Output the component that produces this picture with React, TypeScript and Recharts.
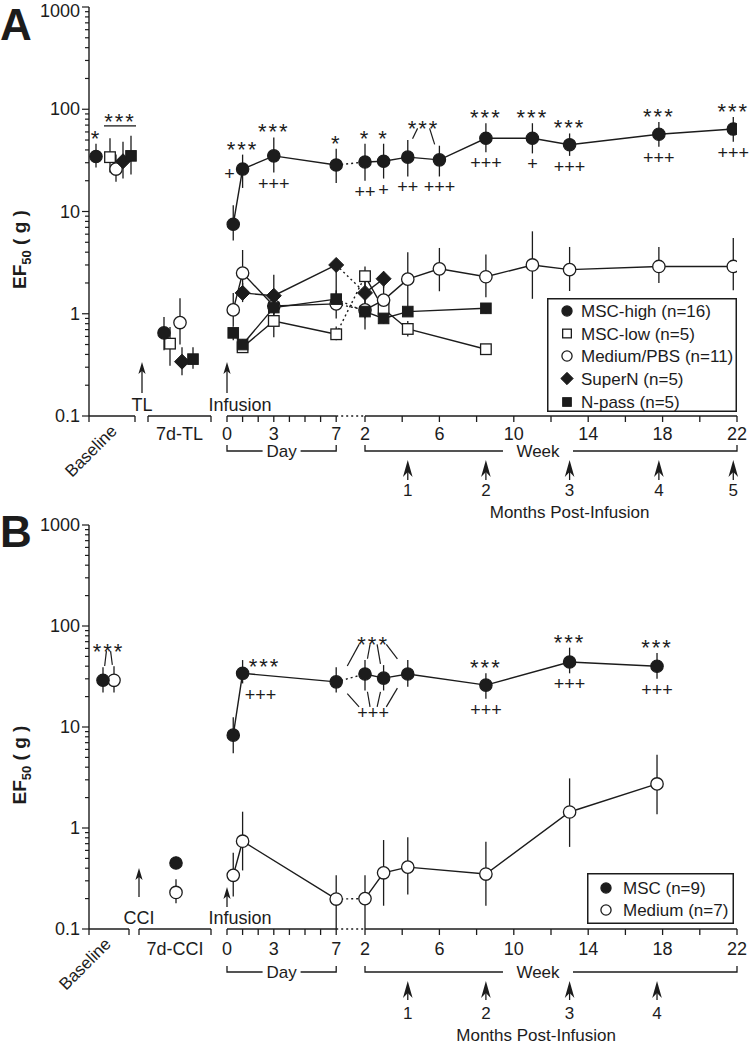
import React from "react";
import {
  LineChart,
  Line,
  XAxis,
  YAxis,
  ErrorBar,
  ReferenceLine,
  ReferenceDot,
  Legend,
} from "recharts";

type Phase = "B" | "T" | "D" | "W";
// [phase, time (day or week), mean, lower bound, upper bound]
type Pt = [Phase, number, number, number, number];
type Mark = "circleF" | "circleO" | "squareO" | "squareF" | "diamond";

// ---------- Panel A (TL) ----------
const A_MSC_HIGH: Pt[] = [
  ["B", 0, 34.5, 27, 46],
  ["T", 0, 0.65, 0.44, 0.93],
  ["D", 0.4, 7.5, 5.2, 11.5],
  ["D", 1, 26, 17, 36],
  ["D", 3, 35, 24, 53],
  ["D", 7, 28.5, 19, 41],
  ["W", 2, 30.5, 20, 46],
  ["W", 3, 31, 21, 46],
  ["W", 4.3, 34, 22, 50],
  ["W", 6, 32, 22, 44],
  ["W", 8.5, 52, 38, 73],
  ["W", 11, 52, 37, 73],
  ["W", 13, 45, 35, 58],
  ["W", 17.8, 57, 43, 75],
  ["W", 21.8, 64, 48, 84],
];
const A_MSC_LOW: Pt[] = [
  ["B", 0, 34, 24, 52],
  ["T", 0, 0.51, 0.31, 0.74],
  ["D", 1, 0.47, 0.42, 0.52],
  ["D", 3, 0.85, 0.59, 1.36],
  ["D", 7, 0.63, 0.55, 0.75],
  ["W", 2, 2.33, 1.8, 2.9],
  ["W", 3, 1.11, 0.9, 1.4],
  ["W", 4.3, 0.71, 0.6, 0.85],
  ["W", 8.5, 0.45, 0.4, 0.5],
];
const A_MEDIUM: Pt[] = [
  ["B", 0, 26, 19.5, 36],
  ["T", 0, 0.82, 0.5, 1.42],
  ["D", 0.4, 1.09, 0.75, 1.6],
  ["D", 1, 2.5, 1.7, 4.2],
  ["D", 3, 1.19, 0.85, 1.6],
  ["D", 7, 1.25, 0.9, 1.7],
  ["W", 2, 1.09, 0.7, 1.6],
  ["W", 3, 1.36, 1.0, 1.9],
  ["W", 4.3, 2.18, 1.1, 4.0],
  ["W", 6, 2.75, 1.66, 4.4],
  ["W", 8.5, 2.3, 1.45, 3.8],
  ["W", 11, 3.0, 1.4, 6.4],
  ["W", 13, 2.7, 1.67, 4.5],
  ["W", 17.8, 2.9, 2.0, 4.5],
  ["W", 21.8, 2.9, 1.7, 5.5],
];
const A_SUPERN: Pt[] = [
  ["B", 0, 31, 21, 48],
  ["T", 0, 0.34, 0.25, 0.47],
  ["D", 1, 1.6, 1.3, 2.0],
  ["D", 3, 1.5, 1.0, 2.4],
  ["D", 7, 3.0, 1.4, 3.4],
  ["W", 2, 1.6, 1.2, 2.1],
  ["W", 3, 2.2, 1.8, 2.6],
];
const A_NPASS: Pt[] = [
  ["B", 0, 35, 23, 55],
  ["T", 0, 0.36, 0.29, 0.47],
  ["D", 0.4, 0.65, 0.55, 0.75],
  ["D", 1, 0.5, 0.45, 0.56],
  ["D", 3, 1.15, 1.0, 1.3],
  ["D", 7, 1.39, 1.2, 1.6],
  ["W", 2, 1.05, 0.9, 1.2],
  ["W", 3, 0.9, 0.8, 1.0],
  ["W", 4.3, 1.05, 0.95, 1.15],
  ["W", 8.5, 1.13, 1.0, 1.25],
];
// significance marks for MSC-high, one per row of A_MSC_HIGH
const A_STARS = ["*", "", "", "***", "***", "*", "*", "*", "", "", "***", "***", "***", "***", "***"];
const A_PLUS = ["", "", "", "+", "+++", "", "++", "+", "++", "+++", "+++", "+", "+++", "+++", "+++"];
const A_MONTHS = [4.3, 8.5, 13, 17.8, 21.8];
const A_MONTH_LABELS = ["1", "2", "3", "4", "5"];

// ---------- Panel B (CCI) ----------
const B_MSC: Pt[] = [
  ["B", 0, 29, 22, 39],
  ["T", 0, 0.45, 0.4, 0.52],
  ["D", 0.4, 8.3, 5.5, 12.5],
  ["D", 1, 34, 27, 46],
  ["D", 7, 28, 22, 39],
  ["W", 2, 33.5, 23, 46],
  ["W", 3, 30.5, 23, 41],
  ["W", 4.3, 33.5, 25, 46],
  ["W", 8.5, 26, 19, 34],
  ["W", 13, 44, 34, 61],
  ["W", 17.7, 40, 30, 54],
];
const B_MEDIUM: Pt[] = [
  ["B", 0, 29, 22, 40],
  ["T", 0, 0.23, 0.18, 0.31],
  ["D", 0.4, 0.34, 0.21, 0.57],
  ["D", 1, 0.74, 0.38, 1.45],
  ["D", 7, 0.198, 0.1, 0.34],
  ["W", 2, 0.2, 0.1, 0.34],
  ["W", 3, 0.36, 0.17, 0.76],
  ["W", 4.3, 0.41, 0.22, 0.81],
  ["W", 8.5, 0.35, 0.17, 0.73],
  ["W", 13, 1.44, 0.65, 3.1],
  ["W", 17.7, 2.73, 1.37, 5.3],
];
const B_STARS = ["", "", "", "***", "", "", "", "", "***", "***", "***"];
const B_PLUS = ["", "", "", "+++", "", "", "", "", "+++", "+++", "+++"];
const B_MONTHS = [4.3, 8.5, 13, 17.7];
const B_MONTH_LABELS = ["1", "2", "3", "4"];

// ---------- axes ----------
const Y_MAJOR = [0.1, 1, 10, 100, 1000];
const Y_TICKS = Y_MAJOR.flatMap((m, i) =>
  i === Y_MAJOR.length - 1 ? [m] : [1, 2, 3, 4, 5, 6, 7, 8, 9].map((k) => +(m * k).toPrecision(3))
);
const DAY_TICKS = [0, 1, 2, 3, 4, 5, 6, 7];
const DAY_TICK_LABELS = ["0", "", "", "3", "", "", "", "7"];
const WEEK_TICKS = [2, 4, 6, 8, 10, 12, 14, 16, 18, 20, 22];
const WEEK_TICK_LABELS = ["2", "", "6", "", "10", "", "14", "", "18", "", "22"];

// x layout: one unit = one pixel of the plot area
const X_MAX = 648;
const DAY0 = 138;
const DAY_W = 15.6;
const WK2 = 276;
const WK_W = 18.6;
const xDay = (d: number) => DAY0 + d * DAY_W;
const xWeek = (w: number) => WK2 + (w - 2) * WK_W;

const INK = "#1c1c1c";
const FONT = "Arial, 'Liberation Sans', Helvetica, sans-serif";

type Row = { x: number; v: number; lo: number; hi: number; err: [number, number] };

function toRow(p: Pt, slotB: number, slotT: number): Row {
  const x = p[0] === "B" ? slotB : p[0] === "T" ? slotT : p[0] === "D" ? xDay(p[1]) : xWeek(p[1]);
  return { x, v: p[2], lo: p[3], hi: p[4], err: [p[2] - p[3], p[4] - p[2]] };
}

function Marker({ kind, cx, cy, small }: { kind: Mark; cx: number; cy: number; small?: boolean }) {
  if (cx == null || cy == null) return <g />;
  const k = small ? 0.82 : 1;
  const r = 6.2 * k;
  const s = 10.6 * k;
  switch (kind) {
    case "circleF":
      return <circle cx={cx} cy={cy} r={r} fill={INK} stroke={INK} strokeWidth={1.2} />;
    case "circleO":
      return <circle cx={cx} cy={cy} r={r} fill="#fff" stroke={INK} strokeWidth={1.3} />;
    case "squareO":
      return <rect x={cx - s / 2} y={cy - s / 2} width={s} height={s} fill="#fff" stroke={INK} strokeWidth={1.3} />;
    case "squareF":
      return <rect x={cx - s / 2} y={cy - s / 2} width={s} height={s} fill={INK} stroke={INK} strokeWidth={1} />;
    default: {
      const d = 7.5 * k;
      return (
        <polygon
          points={`${cx},${cy - d} ${cx + d},${cy} ${cx},${cy + d} ${cx - d},${cy}`}
          fill={INK}
          stroke={INK}
          strokeWidth={1}
        />
      );
    }
  }
}

function arrow(x: number, tip: number, base: number, len: number, half: number, notch: number) {
  return (
    <g>
      <line x1={x} x2={x} y1={tip + len - notch} y2={base} stroke={INK} strokeWidth={1.3} />
      <path
        d={`M${x},${tip} L${x - half},${tip + len} L${x},${tip + len - notch} L${x + half},${tip + len} Z`}
        fill={INK}
      />
    </g>
  );
}

type Group = { label: string; side: "up" | "down"; kind: "bar" | "fan"; lift: number; members: [number, number][] };

const A_GROUPS: Group[] = [
  { label: "***", side: "up", kind: "bar", lift: 1.25, members: [[1, 0], [2, 0], [3, 0], [4, 0]] },
  { label: "***", side: "up", kind: "fan", lift: 1.3, members: [[0, 8], [0, 9]] },
];
const B_GROUPS: Group[] = [
  { label: "***", side: "up", kind: "fan", lift: 1.41, members: [[0, 0], [1, 0]] },
  { label: "***", side: "up", kind: "fan", lift: 1.43, members: [[0, 4], [0, 5], [0, 6], [0, 7]] },
  { label: "+++", side: "down", kind: "fan", lift: 1.39, members: [[0, 4], [0, 5], [0, 6], [0, 7]] },
];

interface Offsets {
  tick: number;
  bracket: number;
  arrowTip: number;
  arrowBase: number;
  monthNum: number;
  monthTitle: number;
  injTip: number;
  injBase: number;
  infTip: number;
  infBase: number;
}

interface PanelCfg {
  letter: string;
  letterTop: number;
  top: number;
  height: number;
  marginTop: number;
  marginBottom: number;
  series: { name: string; pts: Pt[]; mark: Mark }[];
  order: number[];
  baseSlots: number[];
  tlSlots: number[];
  baseSeg: [number, number];
  tlSeg: [number, number];
  stars: string[];
  plus: string[];
  // pixel nudges for a few marks that sit beside their point, by row index
  starNudge: Record<number, [number, number]>;
  plusNudge: Record<number, [number, number]>;
  groups: Group[];
  injury: string;
  injuryX: number;
  tlLabel: string;
  months: number[];
  monthLabels: string[];
  monthTitleWeek: number;
  off: Offsets;
  legend: { left: number; top: number; width: number; height: number; rows: number[]; markX: number; textX: number };
}

const PANEL_A: PanelCfg = {
  letter: "A",
  letterTop: 0,
  top: 0,
  height: 540,
  marginTop: 7,
  marginBottom: 94,
  series: [
    { name: "MSC-high (n=16)", pts: A_MSC_HIGH, mark: "circleF" },
    { name: "MSC-low (n=5)", pts: A_MSC_LOW, mark: "squareO" },
    { name: "Medium/PBS (n=11)", pts: A_MEDIUM, mark: "circleO" },
    { name: "SuperN (n=5)", pts: A_SUPERN, mark: "diamond" },
    { name: "N-pass (n=5)", pts: A_NPASS, mark: "squareF" },
  ],
  order: [1, 2, 3, 4, 0],
  baseSlots: [7, 21, 27, 34, 42],
  tlSlots: [75, 81, 91, 93, 104],
  baseSeg: [0, 46],
  tlSeg: [59, 122],
  stars: A_STARS,
  plus: A_PLUS,
  starNudge: {},
  plusNudge: { 3: [-13, -25] },
  groups: A_GROUPS,
  injury: "TL",
  injuryX: 53,
  tlLabel: "7d-TL",
  months: A_MONTHS,
  monthLabels: A_MONTH_LABELS,
  monthTitleWeek: 13,
  off: { tick: 24, bracket: 35, arrowTip: 44, arrowBase: 64, monthNum: 80, monthTitle: 102, injTip: -54, injBase: -23, infTip: -54, infBase: -23 },
  legend: { left: 547, top: 298, width: 190, height: 114, rows: [13, 35.5, 58, 80.5, 104], markX: 20, textX: 34 },
};

const PANEL_B: PanelCfg = {
  letter: "B",
  letterTop: 2,
  top: 505,
  height: 545,
  marginTop: 20,
  marginBottom: 91,
  series: [
    { name: "MSC (n=9)", pts: B_MSC, mark: "circleF" },
    { name: "Medium (n=7)", pts: B_MEDIUM, mark: "circleO" },
  ],
  order: [1, 0],
  baseSlots: [14, 25],
  tlSlots: [87, 87],
  baseSeg: [0, 40],
  tlSeg: [50, 122],
  stars: B_STARS,
  plus: B_PLUS,
  starNudge: { 3: [22, 12] },
  plusNudge: { 3: [18, 1] },
  groups: B_GROUPS,
  injury: "CCI",
  injuryX: 50,
  tlLabel: "7d-CCI",
  months: B_MONTHS,
  monthLabels: B_MONTH_LABELS,
  monthTitleWeek: 11.2,
  off: { tick: 26, bracket: 43, arrowTip: 52, arrowBase: 71, monthNum: 90, monthTitle: 112, injTip: -61, injBase: -32, infTip: -42, infBase: -22 },
  legend: { left: 587, top: 368, width: 147, height: 51, rows: [15, 37], markX: 19, textX: 36 },
};

const txt = (extra: any = {}) => ({ fontFamily: FONT, fill: INK, ...extra });

function Panel({ cfg }: { cfg: PanelCfg }) {
  const rowsBy = cfg.series.map((s, si) => s.pts.map((p) => toRow(p, cfg.baseSlots[si], cfg.tlSlots[si])));
  const Y0 = Y_MAJOR[0];

  // connecting lines
  const lines: React.ReactNode[] = [];
  cfg.series.forEach((s, si) => {
    const rows = rowsBy[si];
    const dayRows = rows.filter((_, i) => s.pts[i][0] === "D");
    const weekRows = rows.filter((_, i) => s.pts[i][0] === "W");
    const common = {
      dataKey: "v",
      stroke: INK,
      strokeWidth: 1.4,
      dot: false,
      activeDot: false,
      isAnimationActive: false,
      type: "linear" as const,
      legendType: "none" as const,
    };
    if (dayRows.length > 1) lines.push(<Line key={`d-${si}`} data={dayRows} {...common} />);
    if (dayRows.length && weekRows.length)
      lines.push(
        <Line key={`g-${si}`} data={[dayRows[dayRows.length - 1], weekRows[0]]} {...common} strokeDasharray="2 3" />
      );
    if (weekRows.length > 1) lines.push(<Line key={`w-${si}`} data={weekRows} {...common} />);
  });

  // markers with error bars
  const marks = cfg.order.map((si) => {
    const s = cfg.series[si];
    return (
      <Line
        key={`m-${si}`}
        data={rowsBy[si]}
        dataKey="v"
        stroke="none"
        legendType="none"
        activeDot={false}
        isAnimationActive={false}
        dot={(p: any) => <Marker key={`${s.mark}-${p.index}`} kind={s.mark} cx={p.cx} cy={p.cy} />}
      >
        <ErrorBar dataKey="err" direction="y" width={0} stroke={INK} strokeWidth={1.3} />
      </Line>
    );
  });

  // single significance marks on the first series
  const notes: React.ReactNode[] = [];
  rowsBy[0].forEach((r, i) => {
    if (cfg.stars[i]) {
      const [dx, dy] = cfg.starNudge[i] || [0, 0];
      notes.push(
        <ReferenceDot
          key={`s-${i}`}
          x={r.x}
          y={r.hi}
          r={0}
          ifOverflow="visible"
          shape={(p: any) => (
            <text x={p.cx + dx} y={p.cy + 2 + dy} textAnchor="middle" fontSize={22} letterSpacing={2} {...txt()}>
              {cfg.stars[i]}
            </text>
          )}
        />
      );
    }
    if (cfg.plus[i]) {
      const [dx, dy] = cfg.plusNudge[i] || [0, 0];
      notes.push(
        <ReferenceDot
          key={`p-${i}`}
          x={r.x}
          y={r.lo}
          r={0}
          ifOverflow="visible"
          shape={(p: any) => (
            <text x={p.cx + dx} y={p.cy + 17 + dy} textAnchor="middle" fontSize={18} {...txt()}>
              {cfg.plus[i]}
            </text>
          )}
        />
      );
    }
  });

  // grouped marks
  cfg.groups.forEach((g, gi) => {
    const rows = g.members.map(([s, r]) => rowsBy[s][r]);
    const cx = rows.reduce((a, r) => a + r.x, 0) / rows.length;
    const up = g.side === "up";
    const L = up ? Math.max(...rows.map((r) => r.hi)) * g.lift : Math.min(...rows.map((r) => r.lo)) / g.lift;
    if (g.kind === "bar") {
      const xs = rows.map((r) => r.x);
      notes.push(
        <ReferenceLine
          key={`gb-${gi}`}
          segment={[{ x: Math.min(...xs) - 6, y: L }, { x: Math.max(...xs) + 5, y: L }]}
          stroke={INK}
          strokeWidth={1.3}
          ifOverflow="visible"
        />
      );
    } else {
      rows.forEach((r, k) =>
        notes.push(
          <ReferenceLine
            key={`gf-${gi}-${k}`}
            segment={[
              { x: r.x + 0.3 * (cx - r.x), y: up ? r.hi * 1.03 : r.lo / 1.03 },
              { x: r.x + 0.62 * (cx - r.x), y: L },
            ]}
            stroke={INK}
            strokeWidth={1.2}
            ifOverflow="visible"
          />
        )
      );
    }
    const dy = g.kind === "bar" ? 3 : up ? 7.5 : 12.5;
    notes.push(
      <ReferenceDot
        key={`gl-${gi}`}
        x={cx}
        y={L}
        r={0}
        ifOverflow="visible"
        shape={(p: any) => (
          <text
            x={p.cx}
            y={p.cy + dy}
            textAnchor="middle"
            fontSize={up ? 22 : 18}
            letterSpacing={up ? 2 : 0}
            {...txt()}
          >
            {g.label}
          </text>
        )}
      />
    );
  });

  // x axis pieces
  const o = cfg.off;
  const axisSegs: [number, number, boolean][] = [
    [cfg.baseSeg[0], cfg.baseSeg[1], false],
    [cfg.tlSeg[0], cfg.tlSeg[1], false],
    [xDay(0), xDay(7), false],
    [xDay(7), xWeek(2), true],
    [xWeek(2), xWeek(22), false],
  ];
  const xTicks = [0, cfg.baseSeg[1], cfg.tlSeg[0], cfg.tlSeg[1], ...DAY_TICKS.map(xDay), ...WEEK_TICKS.map(xWeek)];
  const xTickLabels = ["", "", "", "", ...DAY_TICK_LABELS, ...WEEK_TICK_LABELS];
  const labelAt = new Map(xTicks.map((t, i) => [t.toFixed(2), xTickLabels[i]]));

  const XTick = (p: any) => {
    const label = labelAt.get(Number(p.payload.value).toFixed(2));
    return (
      <g>
        <line x1={p.x} x2={p.x} y1={p.y} y2={p.y + 6} stroke={INK} strokeWidth={1.3} />
        {label ? (
          <text x={p.x} y={p.y + o.tick} textAnchor="middle" fontSize={18} {...txt()}>
            {label}
          </text>
        ) : null}
      </g>
    );
  };

  const YTick = (p: any) => {
    const v = Number(p.payload.value);
    const major = Y_MAJOR.some((m) => Math.abs(m - v) < 1e-9);
    return (
      <g>
        <line x1={p.x} x2={p.x - (major ? 7 : 4)} y1={p.y} y2={p.y} stroke={INK} strokeWidth={1.2} />
        {major ? (
          <text x={p.x - 9} y={Math.max(p.y + 6, 17)} textAnchor="end" fontSize={18} {...txt()}>
            {String(v)}
          </text>
        ) : null}
      </g>
    );
  };

  const bracket = (key: string, x1: number, x2: number, xt: number, gap: number, label: string) => (
    <ReferenceLine
      key={key}
      segment={[{ x: x1, y: Y0 }, { x: x2, y: Y0 }]}
      ifOverflow="visible"
      shape={(p: any) => {
        const y = p.y1 + o.bracket;
        const a = p.x1;
        const b = p.x2;
        const t = a + ((xt - x1) / (x2 - x1)) * (b - a);
        return (
          <g>
            <path
              d={`M${a},${y - 6} V${y} H${t - gap / 2} M${t + gap / 2},${y} H${b} V${y - 6}`}
              fill="none"
              stroke={INK}
              strokeWidth={1.3}
            />
            <text x={t} y={y + 6} textAnchor="middle" fontSize={17} {...txt()}>
              {label}
            </text>
          </g>
        );
      }}
    />
  );

  const deco: React.ReactNode[] = [
    ...axisSegs.map(([a, b, dotted], i) => (
      <ReferenceLine
        key={`ax-${i}`}
        segment={[{ x: a, y: Y0 }, { x: b, y: Y0 }]}
        stroke={INK}
        strokeWidth={dotted ? 1.6 : 1.4}
        strokeDasharray={dotted ? "2 3" : undefined}
        ifOverflow="visible"
      />
    )),
    bracket("br-day", xDay(0), xDay(7), xDay(3.5), 38, "Day"),
    bracket("br-week", xWeek(2), xWeek(22), xWeek(11.3), 70, "Week"),
    <ReferenceDot
      key="lbl-base"
      x={cfg.baseSeg[1] - 17}
      y={Y0}
      r={0}
      ifOverflow="visible"
      shape={(p: any) => (
        <text
          transform={`translate(${p.cx},${p.cy + 16}) rotate(-45)`}
          textAnchor="end"
          fontSize={17}
          {...txt()}
        >
          Baseline
        </text>
      )}
    />,
    <ReferenceDot
      key="lbl-tl"
      x={(cfg.tlSeg[0] + cfg.tlSeg[1]) / 2}
      y={Y0}
      r={0}
      ifOverflow="visible"
      shape={(p: any) => (
        <text x={p.cx} y={p.cy + o.tick} textAnchor="middle" fontSize={18} {...txt()}>
          {cfg.tlLabel}
        </text>
      )}
    />,
    <ReferenceDot
      key="inj"
      x={cfg.injuryX}
      y={Y0}
      r={0}
      ifOverflow="visible"
      shape={(p: any) => (
        <g>
          {arrow(p.cx, p.cy + o.injTip, p.cy + o.injBase, 12, 3.6, 3)}
          <text x={p.cx} y={p.cy - 5} textAnchor="middle" fontSize={18} {...txt()}>
            {cfg.injury}
          </text>
        </g>
      )}
    />,
    <ReferenceDot
      key="inf"
      x={xDay(0)}
      y={Y0}
      r={0}
      ifOverflow="visible"
      shape={(p: any) => (
        <g>
          {arrow(p.cx, p.cy + o.infTip, p.cy + o.infBase, 12, 3.6, 3)}
          <text x={p.cx + 13} y={p.cy - 5} textAnchor="middle" fontSize={18} {...txt()}>
            Infusion
          </text>
        </g>
      )}
    />,
    ...cfg.months.map((w, i) => (
      <ReferenceDot
        key={`mo-${i}`}
        x={xWeek(w)}
        y={Y0}
        r={0}
        ifOverflow="visible"
        shape={(p: any) => (
          <g>
            {arrow(p.cx, p.cy + o.arrowTip, p.cy + o.arrowBase, 17, 4.8, 5)}
            <text x={p.cx} y={p.cy + o.monthNum} textAnchor="middle" fontSize={17} {...txt()}>
              {cfg.monthLabels[i]}
            </text>
          </g>
        )}
      />
    )),
    <ReferenceDot
      key="mo-title"
      x={xWeek(cfg.monthTitleWeek)}
      y={Y0}
      r={0}
      ifOverflow="visible"
      shape={(p: any) => (
        <text x={p.cx} y={p.cy + o.monthTitle} textAnchor="middle" fontSize={17} {...txt()}>
          Months Post-Infusion
        </text>
      )}
    />,
  ];

  const lg = cfg.legend;
  const legendContent = () => (
    <svg width={lg.width} height={lg.height} style={{ display: "block" }}>
      <rect x={0.75} y={0.75} width={lg.width - 1.5} height={lg.height - 1.5} fill="#fff" stroke={INK} strokeWidth={1.5} />
      {cfg.series.map((s, i) => (
        <g key={s.name}>
          <Marker kind={s.mark} cx={lg.markX} cy={lg.rows[i]} small />
          <text x={lg.textX} y={lg.rows[i] + 6} fontSize={17} {...txt()}>
            {s.name}
          </text>
        </g>
      ))}
    </svg>
  );

  const YLabel = (p: any) => {
    const vb = p.viewBox || { x: 39, y: 0, width: 50, height: 400 };
    const cx = vb.x - 13;
    const cy = vb.y + vb.height / 2 + 38;
    return (
      <text
        transform={`translate(${cx},${cy}) rotate(-90)`}
        textAnchor="middle"
        fontSize={19}
        fontWeight="bold"
        {...txt()}
      >
        EF
        <tspan fontSize={13} dy={5}>
          50
        </tspan>
        <tspan dy={-5}> ( g )</tspan>
      </text>
    );
  };

  return (
    <div style={{ position: "absolute", left: 0, top: cfg.top, width: 752, height: cfg.height }}>
      <LineChart
        width={752}
        height={cfg.height}
        margin={{ top: cfg.marginTop, right: 15, left: 39, bottom: cfg.marginBottom }}
      >
        <XAxis
          dataKey="x"
          type="number"
          domain={[0, X_MAX]}
          allowDataOverflow
          ticks={xTicks}
          interval={0}
          axisLine={false}
          tickLine={false}
          tickSize={0}
          tickMargin={0}
          height={30}
          tick={XTick}
        />
        <YAxis
          type="number"
          scale="log"
          domain={[Y_MAJOR[0], Y_MAJOR[Y_MAJOR.length - 1]]}
          allowDataOverflow
          ticks={Y_TICKS}
          interval={0}
          width={50}
          tickSize={0}
          tickMargin={0}
          tickLine={false}
          axisLine={{ stroke: INK, strokeWidth: 1.4 }}
          tick={YTick}
          label={{ content: YLabel }}
        />
        {deco}
        {lines}
        {marks}
        {notes}
        <Legend
          layout="vertical"
          align="center"
          verticalAlign="middle"
          content={legendContent}
          wrapperStyle={{ left: lg.left, top: lg.top, width: lg.width, height: lg.height }}
        />
      </LineChart>
      <div
        style={{
          position: "absolute",
          left: 0,
          top: cfg.letterTop,
          fontFamily: FONT,
          fontWeight: "bold",
          fontSize: 44,
          lineHeight: "normal",
          color: INK,
        }}
      >
        {cfg.letter}
      </div>
    </div>
  );
}

export default function App() {
  return (
    <div style={{ position: "absolute", left: 0, top: 0, width: 752, height: 1050, background: "#fff" }}>
      <Panel cfg={PANEL_A} />
      <Panel cfg={PANEL_B} />
    </div>
  );
}
